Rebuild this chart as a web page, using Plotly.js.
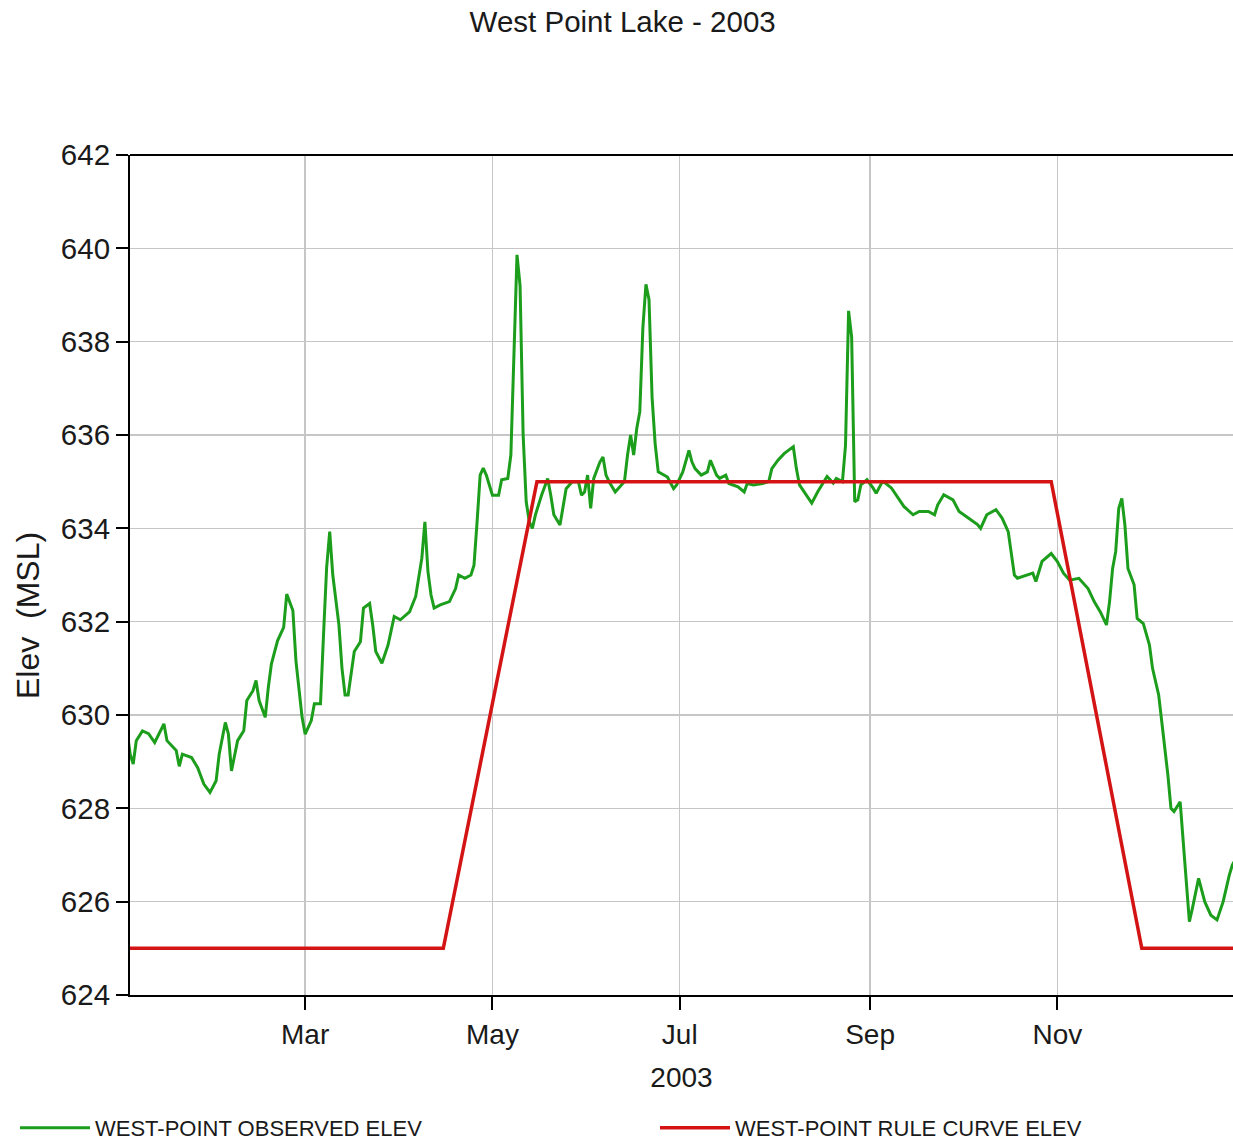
<!DOCTYPE html>
<html>
<head>
<meta charset="utf-8">
<script src="https://cdn.plot.ly/plotly-3.0.1.min.js"></script>
<style>
  html, body { margin: 0; padding: 0; background: #ffffff; overflow: hidden; }
  #chart { width: 1233px; height: 1141px; }
</style>
</head>
<body>
<div id="chart"></div>
<script>
// ---- data ----
const obsDates = [
  '2003-01-02','2003-01-03','2003-01-04','2003-01-05','2003-01-07','2003-01-09','2003-01-11','2003-01-14','2003-01-15','2003-01-18',
  '2003-01-19','2003-01-20','2003-01-23','2003-01-25','2003-01-27','2003-01-29','2003-01-31',
  '2003-02-01','2003-02-03','2003-02-04','2003-02-05','2003-02-07','2003-02-09','2003-02-10','2003-02-12','2003-02-13','2003-02-14',
  '2003-02-16','2003-02-17','2003-02-18','2003-02-20','2003-02-22','2003-02-23','2003-02-25','2003-02-26','2003-02-28',
  '2003-03-01','2003-03-03','2003-03-04','2003-03-06','2003-03-07','2003-03-08','2003-03-09','2003-03-10','2003-03-12','2003-03-13',
  '2003-03-14','2003-03-15','2003-03-17','2003-03-19','2003-03-20','2003-03-22','2003-03-23','2003-03-24','2003-03-26','2003-03-28','2003-03-30',
  '2003-04-01','2003-04-04','2003-04-06','2003-04-08','2003-04-09','2003-04-10','2003-04-11','2003-04-12','2003-04-14','2003-04-17',
  '2003-04-19','2003-04-20','2003-04-22','2003-04-24','2003-04-25','2003-04-26','2003-04-27','2003-04-28','2003-04-29',
  '2003-05-01','2003-05-03','2003-05-04','2003-05-06','2003-05-07','2003-05-08','2003-05-09','2003-05-10','2003-05-11','2003-05-12',
  '2003-05-13','2003-05-14','2003-05-15','2003-05-17','2003-05-19','2003-05-20','2003-05-21','2003-05-23','2003-05-24','2003-05-25',
  '2003-05-27','2003-05-29','2003-05-30','2003-05-31',
  '2003-06-01','2003-06-02','2003-06-03','2003-06-05','2003-06-06','2003-06-07','2003-06-08','2003-06-10','2003-06-12','2003-06-13',
  '2003-06-14','2003-06-15','2003-06-16','2003-06-17','2003-06-18','2003-06-19','2003-06-20','2003-06-21','2003-06-22','2003-06-23',
  '2003-06-24','2003-06-26','2003-06-27','2003-06-29','2003-06-30',
  '2003-07-02','2003-07-04','2003-07-05','2003-07-06','2003-07-08','2003-07-10','2003-07-11','2003-07-13','2003-07-14','2003-07-16',
  '2003-07-17','2003-07-20','2003-07-22','2003-07-23','2003-07-25','2003-07-28','2003-07-30','2003-07-31',
  '2003-08-02','2003-08-04','2003-08-07','2003-08-08','2003-08-09','2003-08-11','2003-08-13','2003-08-15','2003-08-18','2003-08-20',
  '2003-08-21','2003-08-23','2003-08-24','2003-08-25','2003-08-26','2003-08-27','2003-08-28','2003-08-29','2003-08-31',
  '2003-09-02','2003-09-03','2003-09-05','2003-09-06','2003-09-08','2003-09-10','2003-09-12','2003-09-15','2003-09-17','2003-09-20',
  '2003-09-22','2003-09-23','2003-09-25','2003-09-28','2003-09-30',
  '2003-10-03','2003-10-06','2003-10-07','2003-10-09','2003-10-12','2003-10-14','2003-10-16','2003-10-17','2003-10-18','2003-10-19',
  '2003-10-22','2003-10-24','2003-10-25','2003-10-27','2003-10-30',
  '2003-11-01','2003-11-03','2003-11-05','2003-11-08','2003-11-11','2003-11-13','2003-11-15','2003-11-17','2003-11-18','2003-11-19',
  '2003-11-20','2003-11-21','2003-11-22','2003-11-23','2003-11-24','2003-11-26','2003-11-27','2003-11-29',
  '2003-12-01','2003-12-02','2003-12-04','2003-12-05','2003-12-06','2003-12-07','2003-12-08','2003-12-09','2003-12-11','2003-12-12',
  '2003-12-13','2003-12-14','2003-12-15','2003-12-17','2003-12-19','2003-12-21','2003-12-23','2003-12-25','2003-12-27','2003-12-28','2003-12-29'
];
const obsElev = [
  629.66,629.16,628.95,629.45,629.66,629.60,629.41,629.81,629.45,629.24,
  628.90,629.16,629.09,628.87,628.52,628.34,628.59,
  629.16,629.84,629.59,628.80,629.45,629.66,630.31,630.52,630.74,630.31,
  629.95,630.59,631.09,631.59,631.88,632.59,632.24,631.16,629.95,
  629.59,629.88,630.24,630.24,631.74,633.16,633.93,633.00,631.93,631.00,
  630.43,630.43,631.36,631.57,632.29,632.39,631.93,631.36,631.11,631.50,632.11,
  632.04,632.21,632.54,633.36,634.14,633.07,632.57,632.29,632.36,632.43,
  632.71,633.00,632.93,633.00,633.21,634.14,635.14,635.29,635.14,
  634.71,634.71,635.04,635.07,635.57,637.60,639.86,639.20,636.00,634.57,
  634.14,634.00,634.29,634.71,635.07,634.71,634.29,634.07,634.43,634.85,
  635.00,635.00,634.71,634.78,
  635.14,634.43,635.07,635.42,635.53,635.14,635.00,634.78,634.93,635.00,
  635.57,636.00,635.57,636.14,636.50,638.30,639.23,638.90,636.80,635.81,
  635.21,635.14,635.10,634.85,634.93,
  635.21,635.67,635.42,635.28,635.14,635.21,635.46,635.14,635.07,635.14,
  634.96,634.89,634.78,634.96,634.93,634.96,635.00,635.28,
  635.46,635.60,635.75,635.28,634.93,634.72,634.54,634.79,635.11,634.97,
  635.07,635.00,635.78,638.66,638.10,634.57,634.61,634.93,635.04,
  634.86,634.75,635.00,634.97,634.86,634.65,634.47,634.29,634.36,634.36,
  634.29,634.50,634.72,634.61,634.36,
  634.22,634.08,634.00,634.29,634.40,634.22,633.93,633.50,633.00,632.93,
  633.00,633.04,632.86,633.29,633.46,
  633.29,633.04,632.89,632.93,632.71,632.43,632.21,631.93,632.43,633.14,
  633.50,634.43,634.64,634.07,633.14,632.79,632.07,631.96,
  631.50,631.00,630.43,629.86,629.29,628.71,628.00,627.93,628.14,627.29,
  626.43,625.57,625.86,626.50,626.00,625.71,625.61,626.00,626.57,626.79,626.90
];
const ruleDates = ['2003-01-01','2003-04-15','2003-05-15 12:00','2003-10-30','2003-11-28 12:00','2003-12-31'];
const ruleElev  = [625, 625, 635, 635, 625, 625];

const monthTickDates  = ['2003-03-01','2003-05-01','2003-07-01','2003-09-01','2003-11-01'];
const monthTickLabels = ['Mar','May','Jul','Sep','Nov'];
const elevTicks = [624, 626, 628, 630, 632, 634, 636, 638, 640, 642];

const seriesNames = ['WEST-POINT OBSERVED ELEV', 'WEST-POINT RULE CURVE ELEV'];
const chartTitle = 'West Point Lake - 2003';
const yTitle = 'Elev  (MSL)';
const xTitle = '2003';

// ---- chart ----
const FONT = 'Liberation Sans, Arial, Helvetica, sans-serif';
const TXT = '#1a1a1a';

const traces = [
  { x: obsDates, y: obsElev, name: seriesNames[0], type: 'scatter', mode: 'lines',
    line: { color: '#1c9e1c', width: 3 }, legend: 'legend' },
  { x: ruleDates, y: ruleElev, name: seriesNames[1], type: 'scatter', mode: 'lines',
    line: { color: '#d41414', width: 3.5 }, legend: 'legend2' }
];

const legendBase = {
  orientation: 'h', xanchor: 'left',
  y: (995 - 1128) / 840, yanchor: 'middle',
  itemwidth: 70,
  font: { family: FONT, size: 22, color: TXT },
  bgcolor: 'rgba(0,0,0,0)', borderwidth: 0
};

const layout = {
  width: 1233, height: 1141,
  margin: { l: 130, r: 0, t: 155, b: 146, pad: 0, autoexpand: false },
  paper_bgcolor: '#ffffff', plot_bgcolor: '#ffffff',
  font: { family: FONT, size: 28, color: TXT },
  title: { text: chartTitle, font: { family: FONT, size: 29.5, color: TXT },
           xref: 'container', x: 0.505, xanchor: 'center',
           yref: 'container', y: 1 - 22/1141, yanchor: 'middle' },
  xaxis: {
    type: 'date',
    range: ['2003-01-02 22:50', '2003-12-28 05:00'],
    tickmode: 'array', tickvals: monthTickDates, ticktext: monthTickLabels,
    ticks: 'outside', ticklen: 13, tickwidth: 2, tickcolor: '#000',
    ticklabelstandoff: 0,
    showline: true, linecolor: '#000', linewidth: 2,
    showgrid: true, gridcolor: '#c6c6c6', gridwidth: 1.5,
    zeroline: false, automargin: false,
    tickfont: { family: FONT, size: 28, color: TXT },
    title: { text: xTitle, font: { family: FONT, size: 28, color: TXT }, standoff: 19 }
  },
  yaxis: {
    range: [624, 642],
    tickmode: 'array', tickvals: elevTicks,
    ticks: 'outside', ticklen: 12, tickwidth: 2, tickcolor: '#000',
    ticklabelstandoff: 0,
    showline: true, linecolor: '#000', linewidth: 2,
    showgrid: true, gridcolor: '#c6c6c6', gridwidth: 1.5,
    zeroline: false, automargin: false,
    tickfont: { family: FONT, size: 29.5, color: TXT }
  },
  shapes: [
    { type: 'line', xref: 'paper', yref: 'paper', x0: 0, x1: 1, y0: 1, y1: 1,
      line: { color: '#000', width: 2 } }
  ],
  annotations: [
    { text: yTitle, xref: 'paper', yref: 'paper', x: (28 - 130) / 1103, y: (995 - 615) / 840,
      xanchor: 'center', yanchor: 'middle', textangle: -90, showarrow: false,
      font: { family: FONT, size: 32, color: TXT } }
  ],
  showlegend: true,
  legend:  Object.assign({}, legendBase, { x: (15 - 130) / 1103 }),
  legend2: Object.assign({}, legendBase, { x: (655 - 130) / 1103 })
};

Plotly.newPlot('chart', traces, layout, { displayModeBar: false, staticPlot: true });
</script>
</body>
</html>
